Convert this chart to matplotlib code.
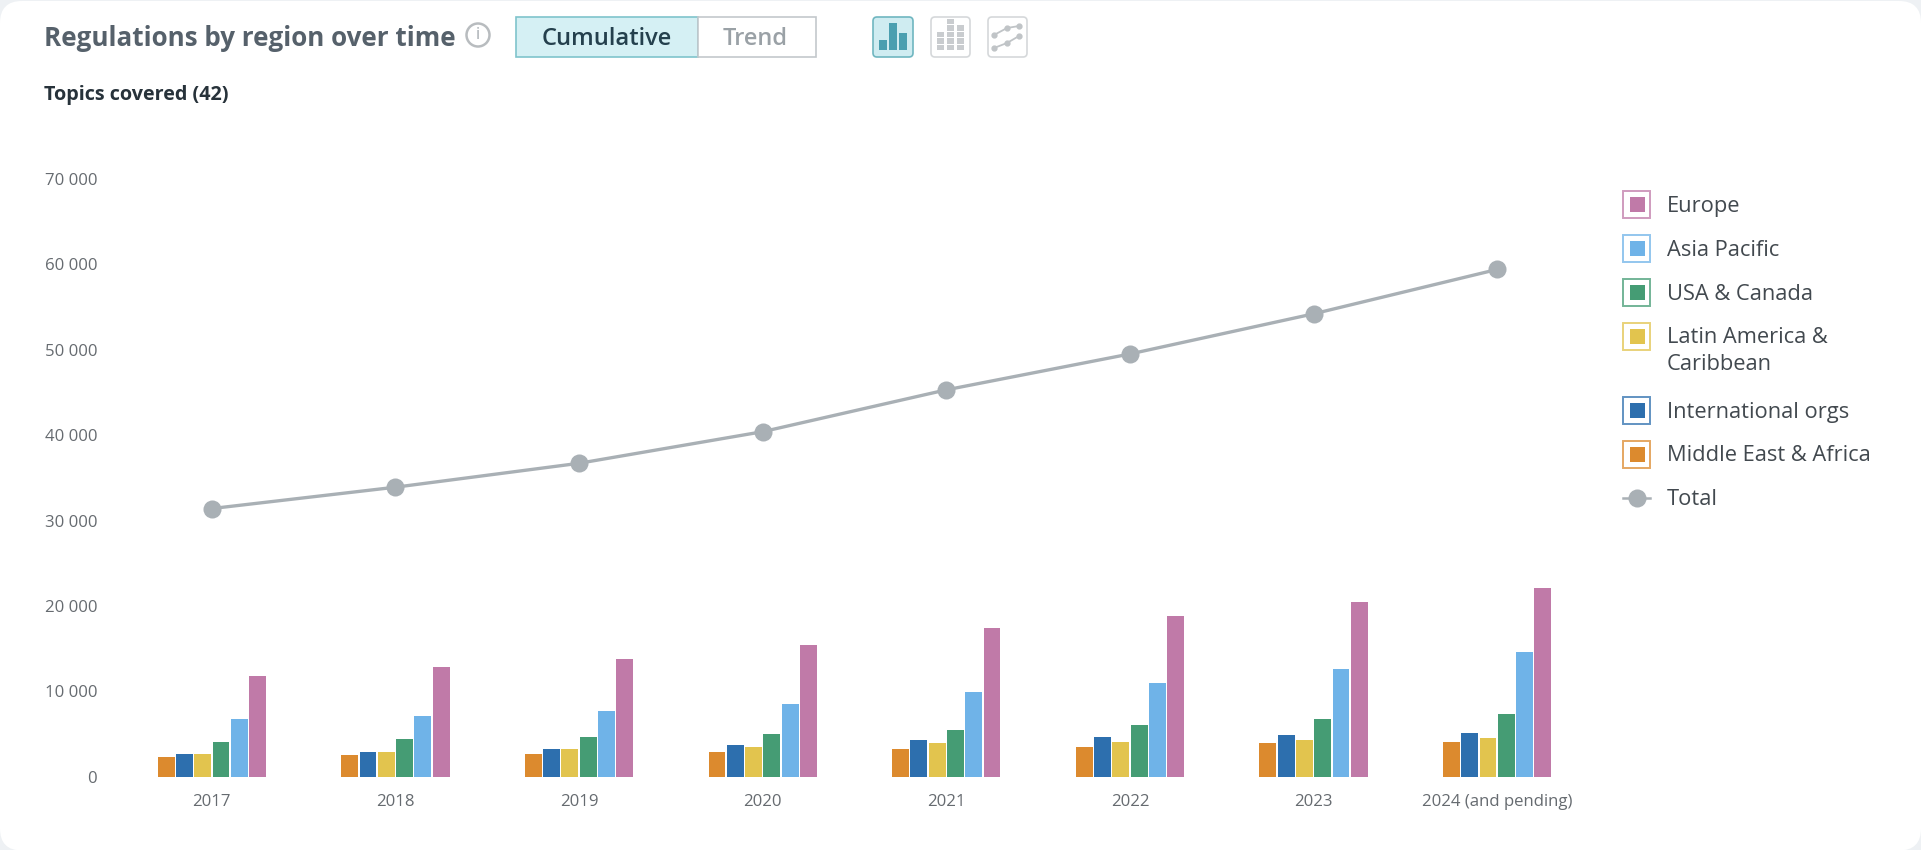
import matplotlib
matplotlib.use('Agg')
import matplotlib.pyplot as plt
from matplotlib.patches import Rectangle, FancyBboxPatch, Circle
import numpy as np

years = ['2017', '2018', '2019', '2020', '2021', '2022', '2023', '2024 (and pending)']
middle_east = [2300, 2500, 2700, 2900, 3300, 3500, 3900, 4100]
intl_orgs = [2700, 2900, 3300, 3700, 4300, 4700, 4900, 5100]
latin_america = [2700, 2900, 3300, 3500, 3900, 4100, 4300, 4500]
usa_canada = [4100, 4400, 4600, 5000, 5500, 6000, 6700, 7300]
asia_pacific = [6700, 7100, 7700, 8500, 9900, 11000, 12600, 14600]
europe = [11800, 12800, 13800, 15400, 17400, 18800, 20500, 22100]
total = [31400, 33900, 36700, 40400, 45300, 49500, 54200, 59400]

series = [middle_east, intl_orgs, latin_america, usa_canada, asia_pacific, europe]
colors = ['#dc8a2e', '#2d6fae', '#e2c44e', '#459c74', '#6fb3e8', '#c07aa8']

plt.rcParams['font.family'] = ['Open Sans', 'DejaVu Sans']

fig = plt.figure(figsize=(19.21, 8.5), dpi=100, facecolor='#eef1f4')

# overlay in pixel coords for the page furniture
bg = fig.add_axes([0, 0, 1, 1])
bg.set_xlim(0, 1921)
bg.set_ylim(850, 0)
bg.axis('off')
bg.add_patch(FancyBboxPatch((0, 1), 1921, 849.5, boxstyle='round,pad=0,rounding_size=22',
                            fc='white', ec='none'))

# title row
bg.text(44, 38.5, 'Regulations by region over time', fontsize=18.7, fontweight='bold',
        color='#56616b', va='center', ha='left')
bg.add_patch(Circle((478, 35), 11.5, fc='white', ec='#b8bcbf', lw=1.8))
bg.text(478, 35, 'i', fontsize=12, color='#a5abb0', ha='center', va='center')
bg.add_patch(Rectangle((516, 17), 182, 40, fc='#d5f0f4', ec='#7fc4cc', lw=1.2))
bg.add_patch(Rectangle((698, 17), 118, 40, fc='white', ec='#c3c8cc', lw=1.2))
bg.text(607, 38.5, 'Cumulative', fontsize=17, fontweight=600, color='#24404d', ha='center', va='center')
bg.text(755, 38.5, 'Trend', fontsize=17, fontweight=600, color='#9aa1a6', ha='center', va='center')

# chart type buttons
bg.add_patch(FancyBboxPatch((873, 17), 40, 40, boxstyle='round,pad=0,rounding_size=4',
                            fc='#cfecf1', ec='#6fb6c0', lw=1.2))
for bx, bh in zip([879, 889, 899], [10, 27, 17]):
    bg.add_patch(Rectangle((bx, 50 - bh), 7.5, bh, fc='#4a9fb0', ec='none'))
bg.add_patch(FancyBboxPatch((931, 17), 39, 40, boxstyle='round,pad=0,rounding_size=4',
                            fc='white', ec='#d5d8da', lw=1.2))
for bx, bh in zip([937, 947, 957], [18, 27, 22]):
    for k in np.arange(0, bh, 6.5):
        bg.add_patch(Rectangle((bx, 50 - k - 5.5), 6.5, 5.5, fc='#c9cccf', ec='none'))
bg.add_patch(FancyBboxPatch((988, 17), 39, 40, boxstyle='round,pad=0,rounding_size=4',
                            fc='white', ec='#d5d8da', lw=1.2))
bg.plot([994, 1007, 1019], [35, 28, 26], color='#c0c4c7', lw=1.3, marker='o', ms=3.5)
bg.plot([994, 1007, 1019], [48, 43, 36], color='#c0c4c7', lw=1.3, marker='o', ms=3.5)

bg.text(44, 95, 'Topics covered (42)', fontsize=14.2, fontweight='bold', color='#27323a', va='center', ha='left')

# chart
ax = fig.add_axes([120 / 1921, 1 - 776.7 / 850, 1469 / 1921, 597.8 / 850])
ax.patch.set_alpha(0)
x = np.arange(len(years))
pitch = 0.0995
for i, vals in enumerate(series):
    ax.bar(x + (i - 2.5) * pitch, vals, width=0.092, color=colors[i], linewidth=0)
ax.plot(x, total, color='#a9b0b5', lw=2.4, marker='o', ms=13, mec='none', clip_on=False)
ax.set_xlim(-0.5, 7.5)
ax.set_ylim(0, 70000)
ax.set_xticks(x)
ax.set_xticklabels(years)
yt = np.arange(0, 70001, 10000)
ax.set_yticks(yt)
ax.set_yticklabels([f'{v:,}'.replace(',', ' ') for v in yt])
ax.tick_params(axis='both', length=0, labelsize=12.1, labelcolor='#666b70')
ax.tick_params(axis='y', pad=16.5)
ax.tick_params(axis='x', pad=12.5)
for s in ax.spines.values():
    s.set_visible(False)

# legend
legend_items = [('Europe', 204.5, 5), ('Asia Pacific', 248.5, 4), ('USA & Canada', 292.5, 3),
                ('Latin America &\nCaribbean', 336, 2), ('International orgs', 410.5, 1),
                ('Middle East & Africa', 454, 0)]
for label, ly, c in legend_items:
    bg.add_patch(Rectangle((1623, ly - 13.5), 27, 27, fc='white', ec=colors[c], lw=1.4, alpha=0.75))
    bg.add_patch(Rectangle((1629.5, ly - 7.5), 15, 15, fc=colors[c], ec='none'))
    if '\n' in label:
        first, second = label.split('\n')
        bg.text(1667, ly + 1.5, first, fontsize=15.75, color='#42494f', va='center', ha='left')
        bg.text(1667, ly + 28.5, second, fontsize=15.75, color='#42494f', va='center', ha='left')
    else:
        bg.text(1667, ly + 1.5, label, fontsize=15.75, color='#42494f', va='center', ha='left')
bg.plot([1623, 1650], [498, 498], color='#a9b0b5', lw=1.8)
bg.plot([1636.5], [498], marker='o', ms=13, color='#a9b0b5', mec='none')
bg.text(1667, 499.5, 'Total', fontsize=15.75, color='#42494f', va='center', ha='left')

fig.savefig('out.png', dpi=100, facecolor=fig.get_facecolor())
